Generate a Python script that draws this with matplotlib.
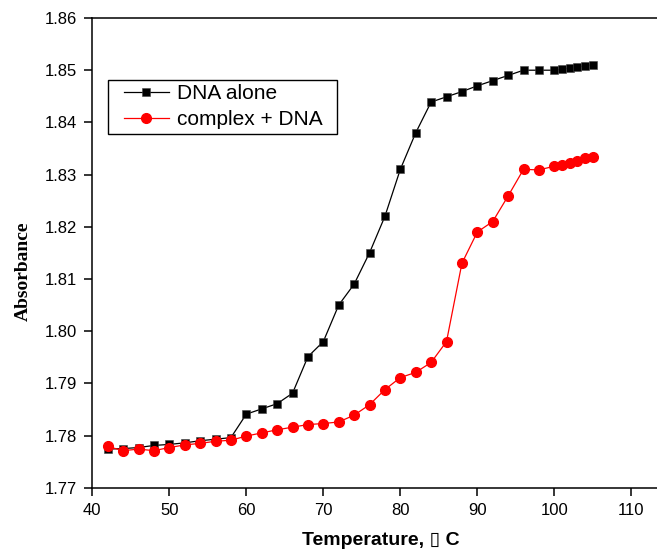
import matplotlib
matplotlib.use('Agg')
import matplotlib.pyplot as plt
from matplotlib.legend_handler import HandlerLine2D

plt.rcParams['font.family'] = ['Liberation Sans', 'DejaVu Sans']

# temperatures (deg C)
temp = [42, 44, 46, 48, 50, 52, 54, 56, 58, 60, 62, 64, 66, 68, 70, 72, 74,
        76, 78, 80, 82, 84, 86, 88, 90, 92, 94, 96, 98, 100, 101, 102, 103,
        104, 105]

dna_alone = [1.7774, 1.7775, 1.7777, 1.7781, 1.7783, 1.7786, 1.7790, 1.7793,
             1.7796, 1.7841, 1.7851, 1.7861, 1.7881, 1.7951, 1.7980, 1.8050,
             1.8090, 1.8150, 1.8220, 1.8310, 1.8380, 1.8439, 1.8449, 1.8459,
             1.8470, 1.8480, 1.8490, 1.8500, 1.8500, 1.8500, 1.8502, 1.8504,
             1.8506, 1.8509, 1.8510]

complex_dna = [1.7779, 1.7771, 1.7774, 1.7771, 1.7777, 1.7782, 1.7785, 1.7789,
               1.7791, 1.7799, 1.7805, 1.7811, 1.7816, 1.7821, 1.7823, 1.7826,
               1.7839, 1.7859, 1.7888, 1.7911, 1.7921, 1.7940, 1.7980, 1.8130,
               1.8190, 1.8210, 1.8259, 1.8310, 1.8309, 1.8316, 1.8319, 1.8323,
               1.8326, 1.8331, 1.8333]

xticks = [40, 50, 60, 70, 80, 90, 100, 110]
yticks = [1.77, 1.78, 1.79, 1.80, 1.81, 1.82, 1.83, 1.84, 1.85, 1.86]

fig = plt.figure(figsize=(6.57, 5.56), dpi=100)
# axes run past the right edge (the original picture is cropped there)
ax = fig.add_axes([0.1405, 0.1228, 0.879, 0.8448])

ax.plot(temp, dna_alone, color='black', lw=0.9, marker='s', ms=6.3,
        mec='#444444', mew=0.4, label='DNA alone')
ax.plot(temp, complex_dna, color='red', lw=0.9, marker='o', ms=7,
        mec='red', label='complex + DNA  ')

ax.set_xlim(40, 115)
ax.set_ylim(1.77, 1.86)
ax.set_xticks(xticks)
ax.set_yticks(yticks)
ax.set_yticklabels(['%.2f' % v for v in yticks])
ax.spines['right'].set_visible(False)
for s in ['left', 'bottom', 'top']:
    ax.spines[s].set_linewidth(1.1)
ax.tick_params(direction='out', length=6, width=1.1, labelsize=12, pad=5)

ax.set_xlabel('Temperature, \u25af C', fontsize=14, fontweight='bold',
              labelpad=10)
ax.set_ylabel('Absorbance', fontsize=14, fontweight='bold',
              family='Liberation Serif')
ax.yaxis.set_label_coords(-0.104, 0.46)

hmap = {l: HandlerLine2D(xpad=0.55) for l in ax.get_lines()}
leg = ax.legend(loc='upper left', bbox_to_anchor=(0.027, 0.868),
                borderaxespad=0, fontsize=15, fancybox=False,
                edgecolor='black', handlelength=2.75, handletextpad=0.37,
                labelspacing=0.35, borderpad=0.2, framealpha=1,
                handler_map=hmap)
leg.get_frame().set_linewidth(1.0)

fig.savefig('out.png', dpi=100)
